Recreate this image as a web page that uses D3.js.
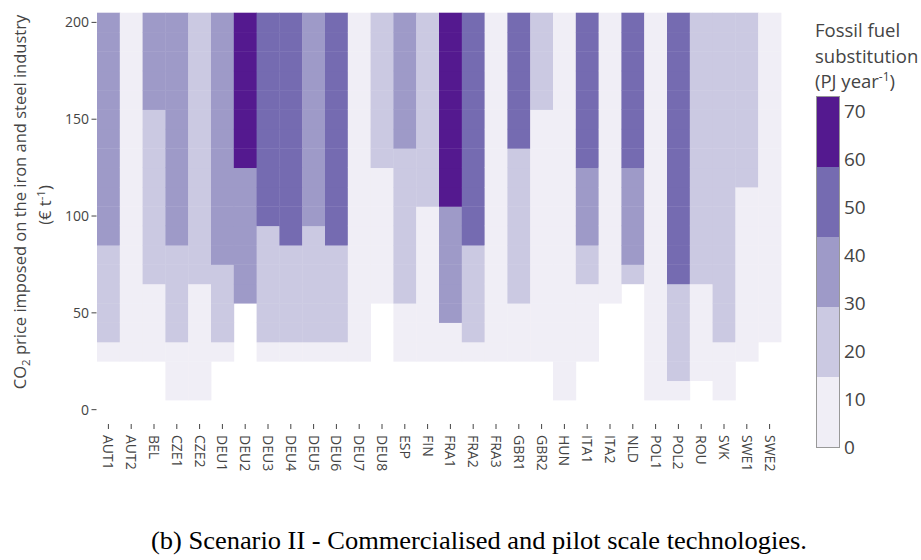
<!DOCTYPE html>
<html><head><meta charset="utf-8">
<script src="https://cdn.jsdelivr.net/npm/d3@7"></script>
<style>
html,body{margin:0;padding:0;background:#fff;}
svg{display:block;font-family:"Open Sans",sans-serif;}
</style></head>
<body><svg id="chart" width="921" height="560"></svg>
<script>
const N = null;
const categories = ["AUT1","AUT2","BEL","CZE1","CZE2","DEU1","DEU2","DEU3","DEU4","DEU5","DEU6","DEU7","DEU8","ESP","FIN","FRA1","FRA2","FRA3","GBR1","GBR2","HUN","ITA1","ITA2","NLD","POL1","POL2","ROU","SVK","SWE1","SWE2"];
const prices = [10,20,30,40,50,60,70,80,90,100,110,120,130,140,150,160,170,180,190,200];
// fossil fuel substitution (PJ/yr), one row per category, one value per price
const substitution = [
 [N,N,7,22,22,22,22,22,37,37,37,37,37,37,37,37,37,37,37,37],
 [N,N,7,7,7,7,7,7,7,7,7,7,7,7,7,7,7,7,7,7],
 [N,N,7,7,7,7,22,22,22,22,22,22,22,22,22,37,37,37,37,37],
 [7,7,7,22,22,22,22,22,37,37,37,37,37,37,37,37,37,37,37,37],
 [7,7,7,7,7,7,22,22,22,22,22,22,22,22,22,22,22,22,22,22],
 [N,N,7,22,22,22,22,37,37,37,37,37,37,37,37,37,37,37,37,37],
 [N,N,N,N,N,37,37,37,37,37,37,37,66,66,66,66,66,66,66,66],
 [N,N,7,22,22,22,22,22,22,52,52,52,52,52,52,52,52,52,52,52],
 [N,N,7,22,22,22,22,22,52,52,52,52,52,52,52,52,52,52,52,52],
 [N,N,7,22,22,22,22,22,22,37,37,37,37,37,37,37,37,37,37,37],
 [N,N,7,22,22,22,22,22,52,52,52,52,52,52,52,52,52,52,52,52],
 [N,N,7,7,7,7,7,7,7,7,7,7,7,7,7,7,7,7,7,7],
 [N,N,N,N,N,7,7,7,7,7,7,7,22,22,22,22,22,22,22,22],
 [N,N,7,7,7,22,22,22,22,22,22,22,22,37,37,37,37,37,37,37],
 [N,N,7,7,7,7,7,7,7,7,22,22,22,22,22,22,22,22,22,22],
 [N,N,7,7,37,37,37,37,37,37,66,66,66,66,66,66,66,66,66,66],
 [N,N,7,22,22,22,22,22,52,52,52,52,52,52,52,52,52,52,52,52],
 [N,N,7,7,7,7,7,7,7,7,7,7,7,7,7,7,7,7,7,7],
 [N,N,7,7,7,22,22,22,22,22,22,22,22,52,52,52,52,52,52,52],
 [N,N,7,7,7,7,7,7,7,7,7,7,7,7,7,22,22,22,22,22],
 [7,7,7,7,7,7,7,7,7,7,7,7,7,7,7,7,7,7,7,7],
 [N,N,7,7,7,7,22,22,37,37,37,37,52,52,52,52,52,52,52,52],
 [N,N,N,N,N,7,7,7,7,7,7,7,7,7,7,7,7,7,7,7],
 [N,N,N,N,N,N,22,37,37,37,37,37,52,52,52,52,52,52,52,52],
 [7,7,7,7,7,7,7,7,7,7,7,7,7,7,7,7,7,7,7,7],
 [7,22,22,22,22,22,52,52,52,52,52,52,52,52,52,52,52,52,52,52],
 [N,7,7,7,7,7,22,22,22,22,22,22,22,22,22,22,22,22,22,22],
 [7,7,7,22,22,22,22,22,22,22,22,22,22,22,22,22,22,22,22,22],
 [N,N,7,7,7,7,7,7,7,7,7,22,22,22,22,22,22,22,22,22],
 [N,N,N,7,7,7,7,7,7,7,7,7,7,7,7,7,7,7,7,7]
];
const yTicks = [0,50,100,150,200];
const cbTicks = [0,10,20,30,40,50,60,70];
const colors = ["#f0eef6","#cbc9e2","#9e9ac8","#756bb1","#54198f"];
const zMax = 73;

const svg = d3.select("#chart");
const x = d3.scaleBand().domain(categories).range([97, 781]);
const y = d3.scaleLinear().domain([-7.4, 205]).range([424, 12.7]);
const color = d3.scaleQuantize().domain([0, zMax]).range(colors);

const cells = [];
categories.forEach((c, i) => prices.forEach((p, j) => {
  const v = substitution[i][j];
  if (v !== null) cells.push({c, p, v});
}));
svg.append("g").selectAll("rect").data(cells).join("rect")
  .attr("x", d => x(d.c)).attr("width", x.bandwidth() + 0.4)
  .attr("y", d => y(d.p + 5)).attr("height", d => y(d.p - 5) - y(d.p + 5) + 0.4)
  .attr("fill", d => color(d.v));

// y axis
const ya = svg.append("g");
yTicks.forEach(t => {
  ya.append("line").attr("x1", 91.5).attr("x2", 96.5).attr("y1", y(t)).attr("y2", y(t))
    .attr("stroke", "#444").attr("stroke-width", 1);
  ya.append("text").attr("x", 89).attr("y", y(t)).attr("dy", "0.35em")
    .attr("text-anchor", "end").attr("font-size", 14).attr("fill", "#444").text(t);
});
// x axis
const xa = svg.append("g");
categories.forEach(c => {
  const cx = x(c) + x.bandwidth() / 2;
  xa.append("line").attr("x1", cx).attr("x2", cx).attr("y1", 424).attr("y2", 429)
    .attr("stroke", "#444").attr("stroke-width", 1);
  xa.append("text").attr("transform", `translate(${cx},435) rotate(90)`)
    .attr("dy", "0.35em").attr("text-anchor", "start").attr("font-size", 14)
    .attr("fill", "#444").text(c);
});

// y title
const t1 = svg.append("text").attr("transform", "translate(26,202) rotate(-90)")
  .attr("text-anchor", "middle").attr("font-size", 16.5).attr("fill", "#444");
t1.append("tspan").text("CO");
t1.append("tspan").attr("font-size", 11.5).attr("dy", 4).text("2");
t1.append("tspan").attr("dy", -4).text(" price imposed on the iron and steel industry");
const t2 = svg.append("text").attr("transform", "translate(51,205) rotate(-90)")
  .attr("text-anchor", "middle").attr("font-size", 16.5).attr("fill", "#444");
t2.append("tspan").text("(€ t");
t2.append("tspan").attr("font-size", 11.5).attr("dy", -6).text("-1");
t2.append("tspan").attr("dy", 6).text(")");

// colorbar
const cb = d3.scaleLinear().domain([0, zMax]).range([447, 97]);
const step = zMax / colors.length;
const cbg = svg.append("g");
colors.forEach((col, i) => {
  cbg.append("rect").attr("x", 817).attr("width", 22.5)
    .attr("y", cb((i + 1) * step)).attr("height", cb(i * step) - cb((i + 1) * step))
    .attr("fill", col);
});
cbg.append("rect").attr("x", 816.5).attr("y", 96.5).attr("width", 23).attr("height", 351)
  .attr("fill", "none").attr("stroke", "#999").attr("stroke-width", 1);
cbTicks.forEach(t => {
  cbg.append("text").attr("x", 844).attr("y", cb(t)).attr("dy", "0.35em")
    .attr("font-size", 19).attr("fill", "#444").text(t);
});
const ct = svg.append("g").attr("font-size", 18.5).attr("fill", "#444");
ct.append("text").attr("x", 815).attr("y", 37).text("Fossil fuel");
ct.append("text").attr("x", 815).attr("y", 63).text("substitution");
const ct3 = ct.append("text").attr("x", 815).attr("y", 88);
ct3.append("tspan").text("(PJ year");
ct3.append("tspan").attr("font-size", 12).attr("dy", -7).text("-1");
ct3.append("tspan").attr("dy", 7).text(")");

// caption
svg.append("text").attr("x", 479).attr("y", 549).attr("text-anchor", "middle")
  .attr("font-family", "'Liberation Serif', serif").attr("font-size", 24.5).attr("fill", "#000")
  .attr("textLength", 656).attr("lengthAdjust", "spacingAndGlyphs")
  .text("(b) Scenario II - Commercialised and pilot scale technologies.");
</script></body></html>
